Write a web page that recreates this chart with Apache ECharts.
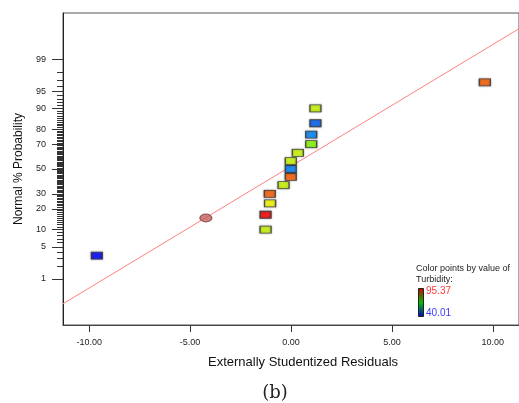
<!DOCTYPE html>
<html>
<head>
<meta charset="utf-8">
<script src="https://cdn.jsdelivr.net/npm/echarts@6/dist/echarts.min.js"></script>
<style>
html,body{margin:0;padding:0;background:#fff;}
#chart{width:519px;height:403px;}
</style>
</head>
<body>
<div id="chart"></div>
<script>
// ---- data ----
const residuals   = [-9.62, -1.26, -1.26, -1.04, -1.05, -0.37, -0.01, -0.01, -0.01, 0.34, 1.00, 1.00, 1.21, 1.21, 9.61];
const probability = [3.33, 10, 16.67, 23.33, 30, 36.67, 43.33, 50, 56.67, 63.33, 70, 76.67, 83.33, 90, 96.67];
const turbidity   = [40.01, 78.8, 95.37, 81.5, 90.2, 78.8, 90.2, 47.3, 78.8, 78.8, 75.1, 47.3, 45.3, 78.8, 90.2];
const flaggedResidual = [-4.22];
const flaggedProbability = [15.0];
const refLineX = [-11.3, 11.3];
const refLineP = [0.218, 99.85];
const xTicks = [-10, -5, 0, 5, 10];
const yTickLabels = [1, 5, 10, 20, 30, 50, 70, 80, 90, 95, 99];
const turbidityRange = [40.01, 95.37];

// inverse standard normal CDF (Acklam)
function invNorm(p) {
  const a = [-3.969683028665376e+01, 2.209460984245205e+02, -2.759285104469687e+02, 1.383577518672690e+02, -3.066479806614716e+01, 2.506628277459239e+00];
  const b = [-5.447609879822406e+01, 1.615858368580409e+02, -1.556989798598866e+02, 6.680131188771972e+01, -1.328068155288572e+01];
  const c = [-7.784894002430293e-03, -3.223964580411365e-01, -2.400758277161838e+00, -2.549732539343734e+00, 4.374664141464968e+00, 2.938163982698783e+00];
  const d = [7.784695709041462e-03, 3.224671290700398e-01, 2.445134137142996e+00, 3.754408661907416e+00];
  const pl = 0.02425, ph = 1 - pl;
  let q, r;
  if (p < pl) {
    q = Math.sqrt(-2 * Math.log(p));
    return (((((c[0]*q+c[1])*q+c[2])*q+c[3])*q+c[4])*q+c[5]) / ((((d[0]*q+d[1])*q+d[2])*q+d[3])*q+1);
  } else if (p <= ph) {
    q = p - 0.5; r = q * q;
    return (((((a[0]*r+a[1])*r+a[2])*r+a[3])*r+a[4])*r+a[5])*q / (((((b[0]*r+b[1])*r+b[2])*r+b[3])*r+b[4])*r+1);
  } else {
    q = Math.sqrt(-2 * Math.log(1 - p));
    return -(((((c[0]*q+c[1])*q+c[2])*q+c[3])*q+c[4])*q+c[5]) / ((((d[0]*q+d[1])*q+d[2])*q+d[3])*q+1);
  }
}
const z = pct => invNorm(pct / 100);

// tick positions on the probability scale
const majorZ = yTickLabels.map(z);
const minorPct = [2, 3, 4, 6, 7, 8, 9];
for (let k = 11; k < 90; k++) if (yTickLabels.indexOf(k) < 0) minorPct.push(k);
minorPct.push(91, 92, 93, 94, 96, 97, 98);
const minorZ = minorPct.map(z);

const pointData = residuals.map((r, i) => [r, z(probability[i]), turbidity[i]]);
const flaggedData = flaggedResidual.map((r, i) => [r, z(flaggedProbability[i])]);
const lineData = refLineX.map((x, i) => [x, z(refLineP[i])]);

const FONT = "'Liberation Sans', Arial, sans-serif";
const chart = echarts.init(document.getElementById('chart'), null, {renderer: 'canvas'});
chart.setOption({
  animation: false,
  backgroundColor: '#ffffff',
  grid: {left: 63, top: 13, width: 466.5, height: 312, show: true, borderColor: '#555', borderWidth: 1, backgroundColor: 'transparent'},
  xAxis: {
    type: 'value', min: -11.3, max: 11.3,
    axisLine: {onZero: false, lineStyle: {color: '#444', width: 1}},
    axisTick: {customValues: xTicks, length: 7, lineStyle: {color: '#333'}},
    axisLabel: {customValues: xTicks, margin: 13, fontSize: 9, fontFamily: FONT, color: '#222',
      formatter: v => v.toFixed(2)},
    splitLine: {show: false}
  },
  yAxis: [{
    type: 'value', min: -3.3, max: 3.3, position: 'left', offset: 0,
    name: 'Normal % Probability', nameLocation: 'middle', nameGap: 37,
    nameTextStyle: {fontSize: 12, fontFamily: FONT, color: '#111'},
    axisLine: {show: true, onZero: false, lineStyle: {color: '#222', width: 1}},
    axisTick: {customValues: majorZ, length: 11, lineStyle: {color: '#333'}},
    axisLabel: {customValues: majorZ, margin: 17, fontSize: 9, fontFamily: FONT, color: '#222',
      formatter: (v) => {
        let best = 0, bd = 1e9;
        majorZ.forEach((m, i) => { const dd = Math.abs(m - v); if (dd < bd) { bd = dd; best = i; } });
        return String(yTickLabels[best]);
      }},
    splitLine: {show: false}
  }, {
    type: 'value', min: -3.3, max: 3.3, position: 'left', offset: 0,
    axisLine: {show: false, onZero: false},
    axisTick: {show: true, customValues: minorZ, length: 6, lineStyle: {color: '#333'}},
    axisLabel: {show: false},
    splitLine: {show: false}
  }],
  visualMap: {
    show: false, type: 'continuous', seriesIndex: 0, dimension: 2,
    min: turbidityRange[0], max: turbidityRange[1],
    inRange: {color: ['#0000ff', '#00ffff', '#00ff00', '#ffff00', '#ff0000']}
  },
  series: [{
    type: 'scatter', data: pointData, symbol: 'rect', symbolSize: [11, 7],
    itemStyle: {borderColor: '#333', borderWidth: 1, shadowColor: 'rgba(0,0,0,0.45)', shadowBlur: 2},
    z: 5
  }, {
    type: 'scatter', data: flaggedData,
    symbol: 'path://M0,4 A6,4 0 1,0 12,4 A6,4 0 1,0 0,4 Z', symbolSize: [12, 8],
    itemStyle: {color: '#c06060', borderColor: '#7a3a3a', borderWidth: 1},
    z: 4
  }, {
    type: 'line', data: lineData, symbol: 'none', silent: true,
    lineStyle: {color: '#ff8080', width: 1}, z: 3
  }],
  graphic: [
    {type: 'text', x: 303, y: 362, style: {text: 'Externally Studentized Residuals', font: "13px 'Liberation Sans', Arial, sans-serif", fill: '#111', textAlign: 'center', textVerticalAlign: 'middle'}},
    {type: 'text', x: 275, y: 393, style: {text: '(b)', font: "18px 'DejaVu Serif', serif", fill: '#222', textAlign: 'center', textVerticalAlign: 'middle'}},
    {type: 'text', x: 416, y: 269, style: {text: 'Color points by value of', font: "9px 'Liberation Sans', Arial, sans-serif", fill: '#222', textVerticalAlign: 'middle'}},
    {type: 'text', x: 416, y: 280, style: {text: 'Turbidity:', font: "9px 'Liberation Sans', Arial, sans-serif", fill: '#222', textVerticalAlign: 'middle'}},
    {type: 'rect', shape: {x: 418.5, y: 288.5, width: 5, height: 28},
      style: {fill: new echarts.graphic.LinearGradient(0, 0, 0, 1, [
        {offset: 0, color: '#d00000'}, {offset: 0.5, color: '#00c000'}, {offset: 1, color: '#0000d0'}]),
        stroke: '#222', lineWidth: 1}},
    {type: 'text', x: 426, y: 291, style: {text: String(turbidityRange[1]), font: "10px 'Liberation Sans', Arial, sans-serif", fill: '#ff3b3b', textVerticalAlign: 'middle'}},
    {type: 'text', x: 426, y: 313, style: {text: String(turbidityRange[0]), font: "10px 'Liberation Sans', Arial, sans-serif", fill: '#3b3bff', textVerticalAlign: 'middle'}}
  ]
});
</script>
</body>
</html>
